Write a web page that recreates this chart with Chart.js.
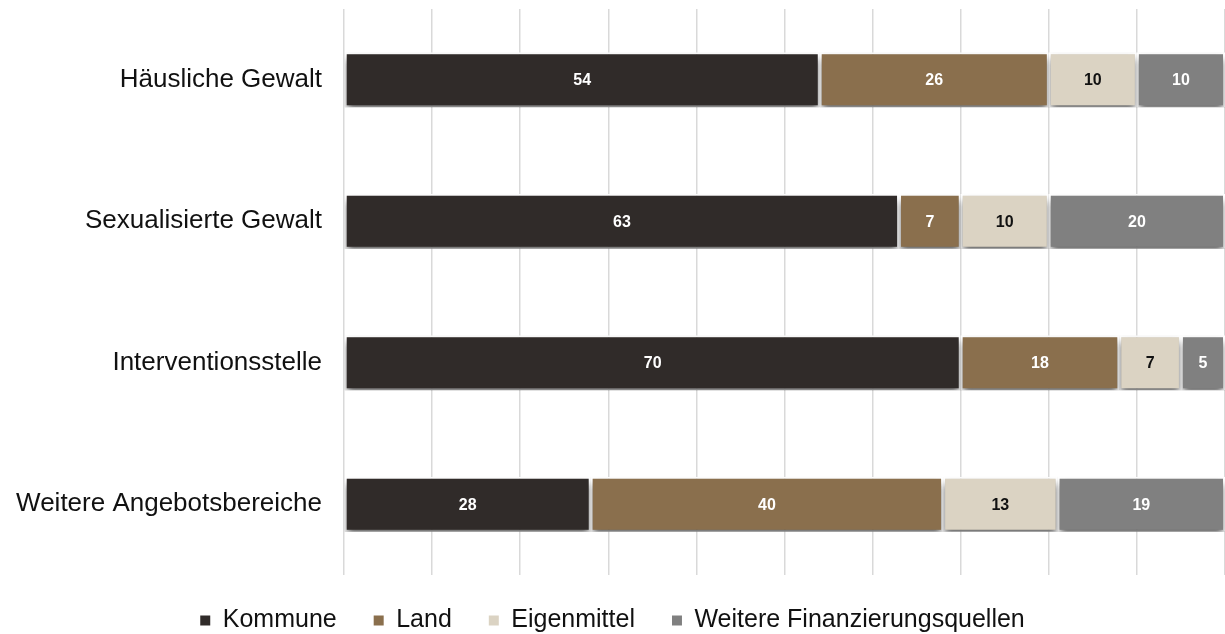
<!DOCTYPE html>
<html lang="de">
<head>
    <meta charset="UTF-8">
    <title>Finanzierungsquellen</title>
    <script src="https://cdn.jsdelivr.net/npm/chart.js"></script>
    <style>
        body {
            margin: 0;
            background: #ffffff;
        }
        .chart-box {
            width: 1225px;
            height: 634px;
        }
    </style>
</head>
<body>
    <div class="chart-box">
        <canvas id="fundingChart"></canvas>
    </div>

    <script>
        const categories = ["Häusliche Gewalt", "Sexualisierte Gewalt", "Interventionsstelle", "Weitere Angebotsbereiche"];
        const seriesNames = ["Kommune", "Land", "Eigenmittel", "Weitere Finanzierungsquellen"];
        const kommune = [54, 63, 70, 28];
        const land = [26, 7, 18, 40];
        const eigenmittel = [10, 10, 7, 13];
        const weitere = [10, 20, 5, 19];
        const xTicks = [0, 10, 20, 30, 40, 50, 60, 70, 80, 90, 100];

        const barColors = ["#302b29", "#8a6f4d", "#dbd3c3", "#808080"];
        const labelColors = ["#ffffff", "#ffffff", "#111111", "#ffffff"];
        const fontFamily = "'Liberation Sans', Arial, sans-serif";

        // shadow under the bars
        const barShadow = {
            id: "barShadow",
            beforeDatasetsDraw(chart) {
                const ctx = chart.ctx;
                ctx.save();
                ctx.shadowColor = "rgba(0, 0, 0, 0.6)";
                ctx.shadowBlur = 7;
                ctx.shadowOffsetX = 0;
                ctx.shadowOffsetY = 5;
            },
            afterDatasetsDraw(chart) {
                chart.ctx.restore();
            }
        };

        // value labels in the middle of each segment
        const valueLabels = {
            id: "valueLabels",
            afterDatasetsDraw(chart) {
                const ctx = chart.ctx;
                ctx.save();
                ctx.font = "bold 16px " + fontFamily;
                ctx.textAlign = "center";
                ctx.textBaseline = "middle";
                chart.data.datasets.forEach((ds, i) => {
                    chart.getDatasetMeta(i).data.forEach((bar, j) => {
                        const left = Math.min(bar.x, bar.base);
                        const right = Math.max(bar.x, bar.base);
                        ctx.fillStyle = labelColors[i];
                        ctx.fillText(ds.data[j], (left + right) / 2, bar.y + 1);
                    });
                });
                ctx.restore();
            }
        };

        // wide gaps between legend items, but keep the legend box short
        const legendBox = {
            id: "legendBox",
            beforeInit(chart) {
                const origFit = chart.legend.fit;
                chart.legend.fit = function () {
                    origFit.call(this);
                    this.height = 59;
                };
            },
            afterLayout(chart) {
                chart.legend.top -= 4;
            }
        };

        const seriesData = [kommune, land, eigenmittel, weitere];

        new Chart(document.getElementById("fundingChart"), {
            type: "bar",
            data: {
                labels: categories,
                datasets: seriesNames.map((name, i) => ({
                    label: name,
                    data: seriesData[i],
                    backgroundColor: barColors[i],
                    borderColor: "#ffffff",
                    borderWidth: 2,
                    borderSkipped: false,
                    categoryPercentage: 1,
                    barPercentage: 0.39
                }))
            },
            options: {
                indexAxis: "y",
                responsive: true,
                maintainAspectRatio: false,
                animation: false,
                layout: { padding: { top: 9, right: 0, bottom: 0, left: 0 } },
                scales: {
                    x: {
                        stacked: true,
                        min: 0,
                        max: 100,
                        afterBuildTicks: axis => { axis.ticks = xTicks.map(v => ({ value: v })); },
                        ticks: { display: false },
                        border: { display: false },
                        grid: { color: "#d9d9d9", lineWidth: 1.5, drawTicks: false }
                    },
                    y: {
                        stacked: true,
                        afterFit: scale => {
                            scale.width = 344;
                            scale.paddingTop = 0;
                            scale.paddingBottom = 0;
                        },
                        grid: { display: false },
                        border: { display: false },
                        ticks: {
                            padding: 14,
                            color: "#111111",
                            font: { family: fontFamily, size: 26 }
                        }
                    }
                },
                plugins: {
                    legend: {
                        position: "bottom",
                        labels: {
                            boxWidth: 10,
                            boxHeight: 10,
                            padding: 37,
                            color: "#111111",
                            font: { family: fontFamily, size: 25 },
                            generateLabels: chart => Chart.defaults.plugins.legend.labels.generateLabels(chart)
                                .map(item => ({ ...item, lineWidth: 0 }))
                        }
                    },
                    tooltip: { enabled: false }
                }
            },
            plugins: [barShadow, valueLabels, legendBox]
        });
    </script>
</body>
</html>
